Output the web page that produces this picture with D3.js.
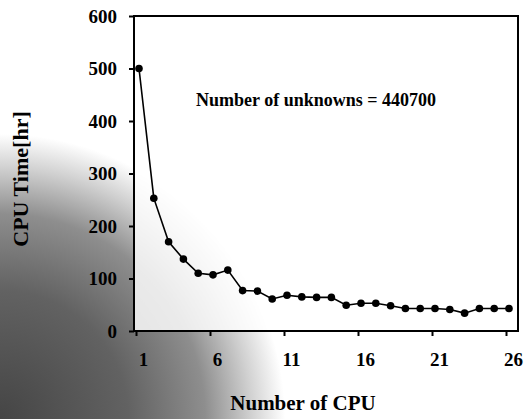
<!DOCTYPE html>
<html>
<head>
<meta charset="utf-8">
<script src="https://cdn.jsdelivr.net/npm/d3@7"></script>
<style>
  html, body { margin: 0; padding: 0; background: #fff; }
  svg { display: block; }
  text { font-family: "Liberation Serif", "Times New Roman", serif; font-weight: bold; fill: #000; }
</style>
</head>
<body>
<svg id="chart" width="524" height="419"></svg>
<script>
// CPU count on the x axis, elapsed CPU time in hours on the y axis
const cpus = [1, 2, 3, 4, 5, 6, 7, 8, 9, 10, 11, 12, 13, 14, 15, 16, 17, 18, 19, 20, 21, 22, 23, 24, 25, 26];
const cpuHours = [500, 253, 170, 137, 110, 107, 116, 77, 76, 61, 68, 65, 64, 64, 49, 53, 53, 48, 43, 43, 43, 41, 34, 43, 43, 43];
const xTicks = [1, 6, 11, 16, 21, 26];
const yTicks = [0, 100, 200, 300, 400, 500, 600];
const note = "Number of unknowns = 440700";
const xTitle = "Number of CPU";
const yTitle = "CPU Time[hr]";

const svg = d3.select("#chart");
const W = 524, H = 419;
const plot = { left: 134, right: 518, top: 16, bottom: 331 };

// scanned-paper shading spreading out from the lower left corner
const defs = svg.append("defs");
const grad = defs.append("radialGradient")
  .attr("id", "shade")
  .attr("gradientUnits", "userSpaceOnUse")
  .attr("cx", 0).attr("cy", 419).attr("r", 285);
grad.append("stop").attr("offset", 0).attr("stop-color", "#454545");
grad.append("stop").attr("offset", 0.45).attr("stop-color", "#626262");
grad.append("stop").attr("offset", 0.72).attr("stop-color", "#8e8e8e");
grad.append("stop").attr("offset", 0.88).attr("stop-color", "#d0d0d0");
grad.append("stop").attr("offset", 1).attr("stop-color", "#ffffff");
svg.append("rect").attr("width", W).attr("height", H).attr("fill", "url(#shade)");
// inside of the plot stays light
svg.append("rect")
  .attr("x", plot.left).attr("y", plot.top)
  .attr("width", plot.right - plot.left).attr("height", plot.bottom - plot.top)
  .attr("fill", "#fff").attr("opacity", 0.82);

const x = d3.scaleLinear().domain([1, 26]).range([139, 509]);
const y = d3.scaleLinear().domain([0, 600]).range([plot.bottom, plot.top]);

// frame
svg.append("rect")
  .attr("x", plot.left).attr("y", plot.top)
  .attr("width", plot.right - plot.left).attr("height", plot.bottom - plot.top)
  .attr("fill", "none").attr("stroke", "#000").attr("stroke-width", 2);

// y axis
const yAxis = d3.axisLeft(y).tickValues(yTicks).tickSize(5).tickPadding(12).tickFormat(d3.format("d"));
const gy = svg.append("g").attr("transform", `translate(${plot.left},0)`).call(yAxis);
gy.select(".domain").remove();
gy.selectAll(".tick line").attr("stroke", "#000").attr("stroke-width", 2);
gy.selectAll(".tick text").style("font-size", "19px").attr("dy", "0.34em");

// x axis
const xAxis = d3.axisBottom(x).tickValues(xTicks).tickSize(5).tickPadding(17).tickFormat(d3.format("d"));
const gx = svg.append("g").attr("transform", `translate(0,${plot.bottom})`).call(xAxis);
gx.select(".domain").remove();
gx.selectAll(".tick line").attr("stroke", "#000").attr("stroke-width", 2)
  .attr("transform", "translate(-3,0)");
gx.selectAll(".tick text").style("font-size", "19px").attr("dx", 4);

// data line and markers
const line = d3.line().x((d, i) => x(cpus[i])).y(d => y(d));
svg.append("path")
  .datum(cpuHours)
  .attr("d", line)
  .attr("fill", "none").attr("stroke", "#000").attr("stroke-width", 1.6);
svg.append("g").selectAll("circle")
  .data(cpuHours)
  .join("circle")
  .attr("cx", (d, i) => x(cpus[i]))
  .attr("cy", d => y(d))
  .attr("r", 3.8)
  .attr("fill", "#000");

// annotation
svg.append("text")
  .attr("x", 316).attr("y", 106)
  .attr("text-anchor", "middle")
  .style("font-size", "18px")
  .text(note);

// axis titles
svg.append("text")
  .attr("x", 303).attr("y", 410)
  .attr("text-anchor", "middle")
  .style("font-size", "21px")
  .text(xTitle);
svg.append("text")
  .attr("transform", "translate(28,179) rotate(-90)")
  .attr("text-anchor", "middle")
  .style("font-size", "22px")
  .text(yTitle);
</script>
</body>
</html>
